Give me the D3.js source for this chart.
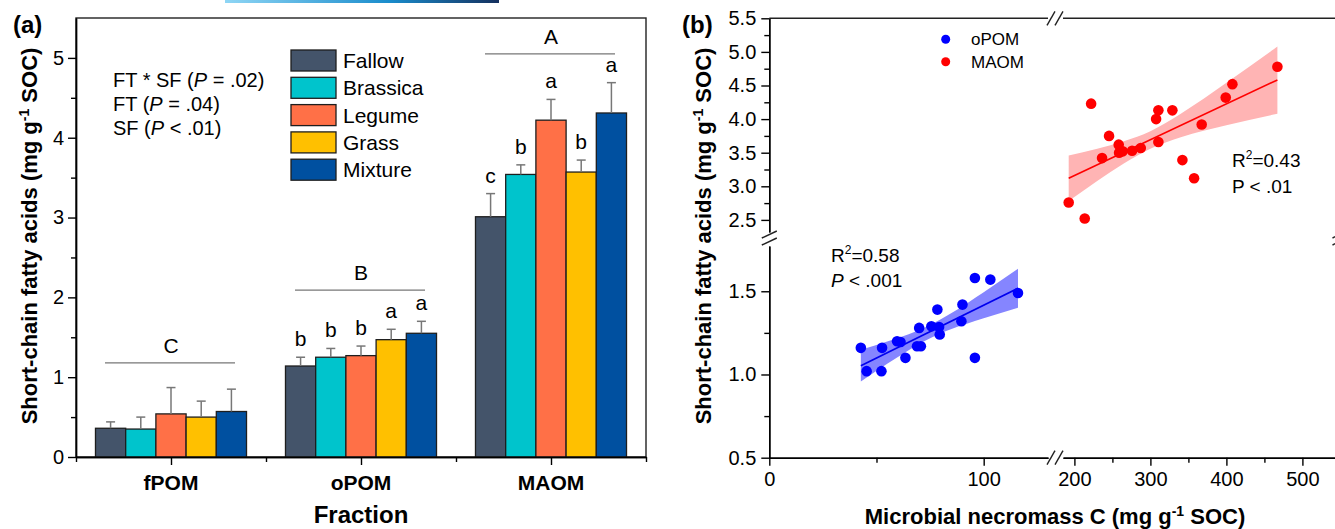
<!DOCTYPE html>
<html>
<head>
<meta charset="utf-8">
<script src="https://cdn.jsdelivr.net/npm/d3@7"></script>
<style>
    body { margin: 0; background: #fff; }
    svg { font-family: "Liberation Sans", Arial, sans-serif; }
    .axis path, .axis line { stroke: #000; stroke-width: 1.4; }
    .axis text { font-size: 20px; fill: #000; }
</style>
</head>
<body>
<div id="chart"></div>
<script>

// panel (a) - bar chart data
var fractions = ["fPOM", "oPOM", "MAOM"];
var treatments = ["Fallow", "Brassica", "Legume", "Grass", "Mixture"];
var colors = ["#44546a", "#00c4cc", "#ff7047", "#ffc000", "#0050a0"];
var meanSCFA = [
    [0.36, 0.35, 0.54, 0.50, 0.57],
    [1.14, 1.25, 1.27, 1.47, 1.55],
    [3.01, 3.54, 4.22, 3.57, 4.31]
];
var seSCFA = [
    [0.08, 0.15, 0.33, 0.20, 0.28],
    [0.11, 0.11, 0.12, 0.13, 0.15],
    [0.29, 0.12, 0.26, 0.15, 0.38]
];
var barLetters = [
    ["", "", "", "", ""],
    ["b", "b", "b", "a", "a"],
    ["c", "b", "a", "b", "a"]
];
var groupLetters = ["C", "B", "A"];
var groupLevels = [1.18, 2.09, 5.05];
var yTicksA = [0, 1, 2, 3, 4, 5];
var statLines = [
    ["FT * SF (", "P", " = .02)"],
    ["FT (", "P", " = .04)"],
    ["SF (", "P", " < .01)"]
];

// panel (b) - scatter data
var opomX = [42.7, 45.4, 52.3, 52.6, 59.6, 61.2, 63.5, 68.9, 70.7, 69.9, 75.6, 78.4, 79.2, 79.5, 89.6, 90.1, 95.9, 95.9, 103.1, 116];
var opomY = [1.16, 1.02, 1.02, 1.16, 1.20, 1.195, 1.10, 1.17, 1.17, 1.28, 1.29, 1.39, 1.285, 1.24, 1.32, 1.42, 1.58, 1.10, 1.57, 1.49];
var maomX = [192.5, 213.6, 222, 236.4, 245.6, 258.3, 258.8, 263.6, 275.9, 287.3, 307.5, 310.5, 310.5, 328.9, 342.1, 357.5, 367.5, 399.1, 407.9, 467.1];
var maomY = [2.76, 2.52, 4.23, 3.42, 3.75, 3.62, 3.50, 3.52, 3.53, 3.57, 4.00, 4.13, 3.66, 4.13, 3.39, 3.12, 3.92, 4.32, 4.52, 4.78];

// fitted lines and confidence bands
var opomFitX = [42.7, 116], opomFitY = [1.053, 1.518];
var opomBandX = [42.7, 55, 65, 75, 85, 100, 116];
var opomBandLo = [0.958, 1.064, 1.146, 1.218, 1.273, 1.338, 1.401];
var opomBandHi = [1.148, 1.198, 1.242, 1.298, 1.369, 1.494, 1.635];
var maomFitX = [192.5, 467.1], maomFitY = [3.12, 4.583];
var maomBandX = [192.5, 230, 265, 300, 340, 400, 467.1];
var maomBandLo = [2.78, 3.08, 3.34, 3.56, 3.73, 3.91, 4.08];
var maomBandHi = [3.46, 3.56, 3.67, 3.82, 4.08, 4.54, 5.08];

var xTicksLeft = [0, 100], xMinorLeft = [50];
var xTicksRight = [200, 300, 400, 500], xMinorRight = [250, 350, 450, 550];
var yTicksLow = [0.5, 1.0, 1.5], yMinorLow = [0.75, 1.25];
var yTicksHigh = [2.5, 3.0, 3.5, 4.0, 4.5, 5.0, 5.5], yMinorHigh = [2.75, 3.25, 3.75, 4.25, 4.75, 5.25];


var svg = d3.select("#chart")
    .append("svg")
    .attr("width", 1335)
    .attr("height", 529);

// strip of the page header that shows at the top of the image
var grad = svg.append("defs").append("linearGradient").attr("id", "hdr");
grad.append("stop").attr("offset", "0%").attr("stop-color", "#8fd6f5");
grad.append("stop").attr("offset", "60%").attr("stop-color", "#1a8ccc");
grad.append("stop").attr("offset", "100%").attr("stop-color", "#15305e");
svg.append("rect").attr("x", 225).attr("y", 0).attr("width", 274).attr("height", 3).attr("fill", "url(#hdr)");


// ================= PANEL (a) =================
var xA = d3.scaleLinear().domain([0, 3]).range([76, 646]);
var yA = d3.scaleLinear().domain([0, 5.5]).range([457, 18]);
var x0 = d3.scaleBand().domain(fractions).range([76, 646]);
var x1 = d3.scaleBand().domain(treatments).range([0, x0.bandwidth()]).paddingOuter(0.645);

var gA = svg.append("g");

// frame
gA.append("rect")
    .attr("x", xA(0)).attr("y", yA(5.5))
    .attr("width", xA(3) - xA(0)).attr("height", yA(0) - yA(5.5))
    .attr("fill", "none").attr("stroke", "#222").attr("stroke-width", 1.4);

// bars
fractions.forEach(function (f, i) {
    var grp = gA.append("g").attr("transform", "translate(" + x0(f) + ",0)");

    grp.selectAll("rect")
        .data(meanSCFA[i])
        .enter().append("rect")
        .attr("x", function (d, j) { return x1(treatments[j]); })
        .attr("y", function (d) { return yA(d); })
        .attr("width", x1.bandwidth())
        .attr("height", function (d) { return yA(0) - yA(d); })
        .attr("fill", function (d, j) { return colors[j]; })
        .attr("stroke", "#1e1e1e")
        .attr("stroke-width", 1.3);

    // error bars (upper only)
    meanSCFA[i].forEach(function (m, j) {
        var cx = x1(treatments[j]) + x1.bandwidth() / 2;
        var top = yA(m + seSCFA[i][j]);
        grp.append("line").attr("x1", cx).attr("x2", cx).attr("y1", yA(m)).attr("y2", top)
            .attr("stroke", "#777").attr("stroke-width", 1.5);
        grp.append("line").attr("x1", cx - 4.5).attr("x2", cx + 4.5).attr("y1", top).attr("y2", top)
            .attr("stroke", "#777").attr("stroke-width", 1.5);
        grp.append("text").attr("x", cx).attr("y", top - 11)
            .attr("text-anchor", "middle").attr("font-size", 21)
            .text(barLetters[i][j]);
    });

    // group letter with line
    var cxg = x0.bandwidth() / 2;
    grp.append("line").attr("x1", cxg - 66).attr("x2", cxg + 64)
        .attr("y1", yA(groupLevels[i])).attr("y2", yA(groupLevels[i]))
        .attr("stroke", "#777").attr("stroke-width", 1.3);
    grp.append("text").attr("x", cxg).attr("y", yA(groupLevels[i]) - 10)
        .attr("text-anchor", "middle").attr("font-size", 21)
        .text(groupLetters[i]);
});

// y axis
gA.append("g").attr("class", "axis")
    .attr("transform", "translate(" + xA(0) + ",0)")
    .call(d3.axisLeft(yA).tickValues(yTicksA).tickFormat(d3.format("d")).tickSize(8).tickPadding(4).tickSizeOuter(0));
gA.append("g").attr("class", "axis")
    .attr("transform", "translate(" + xA(0) + ",0)")
    .call(d3.axisLeft(yA).tickValues([0.5, 1.5, 2.5, 3.5, 4.5]).tickSize(5).tickFormat("").tickSizeOuter(0));

// x axis
gA.append("g").attr("class", "axis")
    .attr("transform", "translate(0," + yA(0) + ")")
    .call(d3.axisBottom(xA).tickValues([0.5, 1.5, 2.5]).tickSize(8).tickFormat("").tickSizeOuter(0));
gA.append("g").attr("class", "axis")
    .attr("transform", "translate(0," + yA(0) + ")")
    .call(d3.axisBottom(xA).tickValues([0, 1, 2, 3]).tickSize(5).tickFormat("").tickSizeOuter(0));

gA.selectAll(".cat")
    .data(fractions)
    .enter().append("text")
    .attr("class", "cat")
    .attr("x", function (d) { return x0(d) + x0.bandwidth() / 2; })
    .attr("y", 490)
    .attr("text-anchor", "middle")
    .attr("font-size", 21).attr("font-weight", "bold")
    .text(function (d) { return d; });

// legend
var leg = gA.append("g").attr("transform", "translate(291,50)");
treatments.forEach(function (t, j) {
    leg.append("rect").attr("x", 0).attr("y", j * 27.3).attr("width", 45).attr("height", 21)
        .attr("fill", colors[j]).attr("stroke", "#1e1e1e").attr("stroke-width", 1.3);
    leg.append("text").attr("x", 52).attr("y", j * 27.3 + 18)
        .attr("font-size", 21).text(t);
});

// statistics text
statLines.forEach(function (s, k) {
    var t = gA.append("text").attr("x", 113).attr("y", 87 + k * 24).attr("font-size", 20);
    t.append("tspan").text(s[0]);
    t.append("tspan").attr("font-style", "italic").text(s[1]);
    t.append("tspan").text(s[2]);
});

// titles
gA.append("text").attr("x", 13).attr("y", 33).attr("font-size", 24).attr("font-weight", "bold").text("(a)");
var ytA = gA.append("text")
    .attr("transform", "translate(37,236) rotate(-90)")
    .attr("text-anchor", "middle").attr("font-size", 22).attr("font-weight", "bold");
ytA.append("tspan").text("Short-chain fatty acids (mg g");
ytA.append("tspan").attr("font-size", 14).attr("dy", -8).text("-1");
ytA.append("tspan").attr("dy", 8).text(" SOC)");
gA.append("text").attr("x", 361).attr("y", 523).attr("text-anchor", "middle")
    .attr("font-size", 24).attr("font-weight", "bold").text("Fraction");


// ================= PANEL (b) =================
var xL = d3.scaleLinear().domain([0, 130]).range([769.3, 1048]);
var xR = d3.scaleLinear().domain([185, 560]).range([1063, 1348]);
var yLo = d3.scaleLinear().domain([0.5, 1.772]).range([457.7, 246]);
var yHi = d3.scaleLinear().domain([2.32, 5.5]).range([232, 18.3]);

var gB = svg.append("g");
var ax0 = 769.3, axR = 1340, yBot = 457.7, yTop = 18.3;

// frame lines (top & right, broken)
gB.append("line").attr("x1", ax0).attr("x2", 1048).attr("y1", yTop).attr("y2", yTop).attr("stroke", "#222").attr("stroke-width", 1.4);
gB.append("line").attr("x1", 1063).attr("x2", axR).attr("y1", yTop).attr("y2", yTop).attr("stroke", "#222").attr("stroke-width", 1.4);
gB.append("line").attr("x1", axR).attr("x2", axR).attr("y1", yTop).attr("y2", 232).attr("stroke", "#222").attr("stroke-width", 1.4);
gB.append("line").attr("x1", axR).attr("x2", axR).attr("y1", 246).attr("y2", yBot).attr("stroke", "#222").attr("stroke-width", 1.4);

// confidence bands
function band(xs, lo, hi, xsc, ysc) {
    var pts = xs.map(function (x, i) { return {x: x, lo: lo[i], hi: hi[i]}; });
    return d3.area()
        .x(function (d) { return xsc(d.x); })
        .y0(function (d) { return ysc(d.lo); })
        .y1(function (d) { return ysc(d.hi); })
        .curve(d3.curveMonotoneX)(pts);
}
gB.append("path").attr("d", band(maomBandX, maomBandLo, maomBandHi, xR, yHi))
    .attr("fill", "#ffb4b4");
gB.append("path").attr("d", band(opomBandX, opomBandLo, opomBandHi, xL, yLo))
    .attr("fill", "#8585ff");

// fitted lines
gB.append("line")
    .attr("x1", xR(maomFitX[0])).attr("x2", xR(maomFitX[1]))
    .attr("y1", yHi(maomFitY[0])).attr("y2", yHi(maomFitY[1]))
    .attr("stroke", "#ff0000").attr("stroke-width", 1.6);
gB.append("line")
    .attr("x1", xL(opomFitX[0])).attr("x2", xL(opomFitX[1]))
    .attr("y1", yLo(opomFitY[0])).attr("y2", yLo(opomFitY[1]))
    .attr("stroke", "#0000ee").attr("stroke-width", 1.6);

// points
gB.selectAll(".maom")
    .data(d3.zip(maomX, maomY))
    .enter().append("circle")
    .attr("class", "maom")
    .attr("r", 5.3)
    .attr("cx", function (d) { return xR(d[0]); })
    .attr("cy", function (d) { return yHi(d[1]); })
    .attr("fill", "#ff0000");
gB.selectAll(".opom")
    .data(d3.zip(opomX, opomY))
    .enter().append("circle")
    .attr("class", "opom")
    .attr("r", 5.3)
    .attr("cx", function (d) { return xL(d[0]); })
    .attr("cy", function (d) { return yLo(d[1]); })
    .attr("fill", "#0000ff");

// y axis segments
gB.append("g").attr("class", "axis").attr("transform", "translate(" + ax0 + ",0)")
    .call(d3.axisLeft(yLo).tickValues(yTicksLow).tickFormat(d3.format(".1f")).tickSize(8).tickPadding(5).tickSizeOuter(0));
gB.append("g").attr("class", "axis").attr("transform", "translate(" + ax0 + ",0)")
    .call(d3.axisLeft(yLo).tickValues(yMinorLow).tickFormat("").tickSize(5).tickSizeOuter(0));
gB.append("g").attr("class", "axis").attr("transform", "translate(" + ax0 + ",0)")
    .call(d3.axisLeft(yHi).tickValues(yTicksHigh).tickFormat(d3.format(".1f")).tickSize(8).tickPadding(5).tickSizeOuter(0));
gB.append("g").attr("class", "axis").attr("transform", "translate(" + ax0 + ",0)")
    .call(d3.axisLeft(yHi).tickValues(yMinorHigh).tickFormat("").tickSize(5).tickSizeOuter(0));

// x axis segments
gB.append("g").attr("class", "axis").attr("transform", "translate(0," + yBot + ")")
    .call(d3.axisBottom(xL).tickValues(xTicksLeft).tickSize(8).tickPadding(6).tickSizeOuter(0));
gB.append("g").attr("class", "axis").attr("transform", "translate(0," + yBot + ")")
    .call(d3.axisBottom(xL).tickValues(xMinorLeft).tickFormat("").tickSize(5).tickSizeOuter(0));
gB.append("g").attr("class", "axis").attr("transform", "translate(0," + yBot + ")")
    .call(d3.axisBottom(xR).tickValues(xTicksRight).tickSize(8).tickPadding(6).tickSizeOuter(0));
gB.append("g").attr("class", "axis").attr("transform", "translate(0," + yBot + ")")
    .call(d3.axisBottom(xR).tickValues(xMinorRight).tickFormat("").tickSize(5).tickSizeOuter(0));

// axis break marks
function breakY(x, yA1, yA2) {
    [0, 7].forEach(function (o) {
        gB.append("line").attr("x1", x - 7.5).attr("x2", x + 7.5)
            .attr("y1", yA1 + o + 4).attr("y2", yA1 + o - 3)
            .attr("stroke", "#222").attr("stroke-width", 1.4);
    });
}
function breakX(xs, y) {
    xs.forEach(function (x) {
        gB.append("line").attr("x1", x - 4).attr("x2", x + 4)
            .attr("y1", y + 7).attr("y2", y - 7)
            .attr("stroke", "#222").attr("stroke-width", 1.4);
    });
}
breakY(ax0, 234, 246);
breakY(axR, 234, 246);
breakX([1051, 1059], yBot);
breakX([1051, 1059], yTop);

// legend
gB.append("circle").attr("cx", 945.7).attr("cy", 39.3).attr("r", 4.5).attr("fill", "#0000ff");
gB.append("circle").attr("cx", 945.7).attr("cy", 61.7).attr("r", 4.5).attr("fill", "#ff0000");
gB.append("text").attr("x", 971).attr("y", 45).attr("font-size", 17).text("oPOM");
gB.append("text").attr("x", 971).attr("y", 67.5).attr("font-size", 17).text("MAOM");

// regression annotations
var r1 = gB.append("text").attr("x", 831).attr("y", 262).attr("font-size", 19);
r1.append("tspan").text("R");
r1.append("tspan").attr("font-size", 12).attr("dy", -8).text("2");
r1.append("tspan").attr("dy", 8).text("=0.58");
var p1 = gB.append("text").attr("x", 831).attr("y", 287).attr("font-size", 19);
p1.append("tspan").attr("font-style", "italic").text("P");
p1.append("tspan").text(" < .001");

var r2 = gB.append("text").attr("x", 1232).attr("y", 167).attr("font-size", 19);
r2.append("tspan").text("R");
r2.append("tspan").attr("font-size", 12).attr("dy", -8).text("2");
r2.append("tspan").attr("dy", 8).text("=0.43");
gB.append("text").attr("x", 1232).attr("y", 193).attr("font-size", 19).text("P < .01");

// titles
gB.append("text").attr("x", 682).attr("y", 33).attr("font-size", 24).attr("font-weight", "bold").text("(b)");
var ytB = gB.append("text")
    .attr("transform", "translate(711,236) rotate(-90)")
    .attr("text-anchor", "middle").attr("font-size", 22).attr("font-weight", "bold");
ytB.append("tspan").text("Short-chain fatty acids (mg g");
ytB.append("tspan").attr("font-size", 14).attr("dy", -8).text("-1");
ytB.append("tspan").attr("dy", 8).text(" SOC)");
var xtB = gB.append("text")
    .attr("x", 1055).attr("y", 524)
    .attr("text-anchor", "middle").attr("font-size", 22).attr("font-weight", "bold");
xtB.append("tspan").text("Microbial necromass C (mg g");
xtB.append("tspan").attr("font-size", 14).attr("dy", -8).text("-1");
xtB.append("tspan").attr("dy", 8).text(" SOC)");

</script>
</body>
</html>
